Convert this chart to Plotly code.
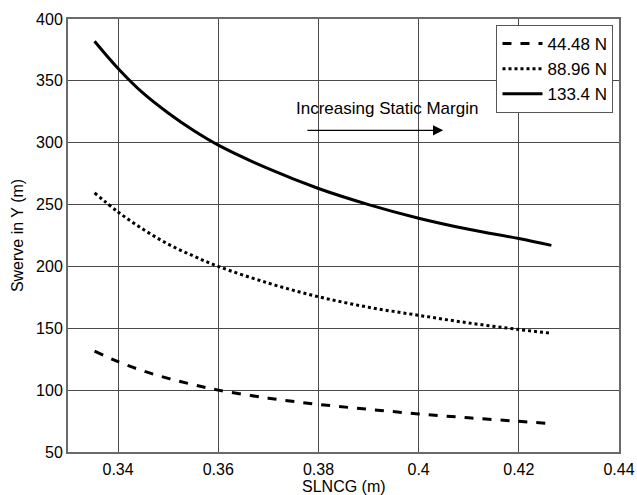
import plotly.graph_objects as go

# SLNCG (m) sample points
slncg = [0.3353, 0.34, 0.345, 0.35, 0.355, 0.36, 0.37, 0.38, 0.39, 0.40, 0.41, 0.42, 0.4265]

# Swerve in Y (m) for each launch force
swerve_44 = [131.5, 123, 115.5, 109.5, 104.5, 100, 93.5, 88.5, 84.5, 80.8, 77.6, 74.8, 73]
swerve_89 = [259.5, 244, 230, 218, 208.5, 200, 186.5, 175.5, 167, 160.5, 154.3, 149, 146]
swerve_133 = [382, 360, 340, 324, 310, 298, 279, 263, 250, 239, 230, 222.5, 217]

series = [
    ("44.48 N", swerve_44, "dash"),
    ("88.96 N", swerve_89, "dot"),
    ("133.4 N", swerve_133, "solid"),
]

x_ticks = [0.34, 0.36, 0.38, 0.4, 0.42, 0.44]
x_tick_text = ["0.34", "0.36", "0.38", "0.4", "0.42", "0.44"]
y_ticks = [50, 100, 150, 200, 250, 300, 350, 400]

FONT = "Liberation Sans, Arial, sans-serif"

fig = go.Figure()
for name, ys, dash in series:
    fig.add_trace(go.Scatter(
        x=slncg, y=ys, name=name, mode="lines",
        line=dict(color="black", width=3, dash=dash, shape="spline", smoothing=1.0),
    ))

# arrow and label inside the plot
fig.add_annotation(
    x=0.4049, y=310, ax=0.3775, ay=310,
    xref="x", yref="y", axref="x", ayref="y",
    showarrow=True, arrowhead=2, arrowsize=1.7, arrowwidth=1.2,
    arrowcolor="black", text="",
)
fig.add_annotation(
    x=0.3937, y=327.5, xref="x", yref="y", showarrow=False,
    text="Increasing Static Margin",
    font=dict(family=FONT, size=17, color="black"),
)

# x-axis title placed just below the tick labels
fig.add_annotation(
    x=0.5, y=0, xref="paper", yref="paper",
    xanchor="center", yanchor="top", yshift=-24, showarrow=False,
    text="SLNCG (m)",
    font=dict(family=FONT, size=16, color="black"),
)

axis_common = dict(
    showgrid=True, gridcolor="#4a4a4a", gridwidth=1,
    showline=True, linecolor="#6a6a6a", linewidth=2, mirror=True,
    ticks="", zeroline=False, automargin=False,
    tickfont=dict(family=FONT, size=16, color="black"),
)

fig.update_xaxes(
    range=[0.33, 0.44], tickvals=x_ticks, ticktext=x_tick_text,
    ticklabelstandoff=2,
    **axis_common,
)
fig.update_yaxes(
    range=[50, 400], tickvals=y_ticks,
    title=dict(text="Swerve in Y (m)", font=dict(family=FONT, size=16, color="black"), standoff=8),
    **axis_common,
)

fig.update_layout(
    width=637, height=495,
    margin=dict(l=68, r=18, t=19, b=43),
    paper_bgcolor="white", plot_bgcolor="white",
    showlegend=True,
    legend=dict(
        x=0.99, y=0.986, xanchor="right", yanchor="top",
        bgcolor="white", bordercolor="#555555", borderwidth=1,
        font=dict(family=FONT, size=17, color="black"),
        itemwidth=40, tracegroupgap=0,
    ),
)

fig.write_html("out.html")
